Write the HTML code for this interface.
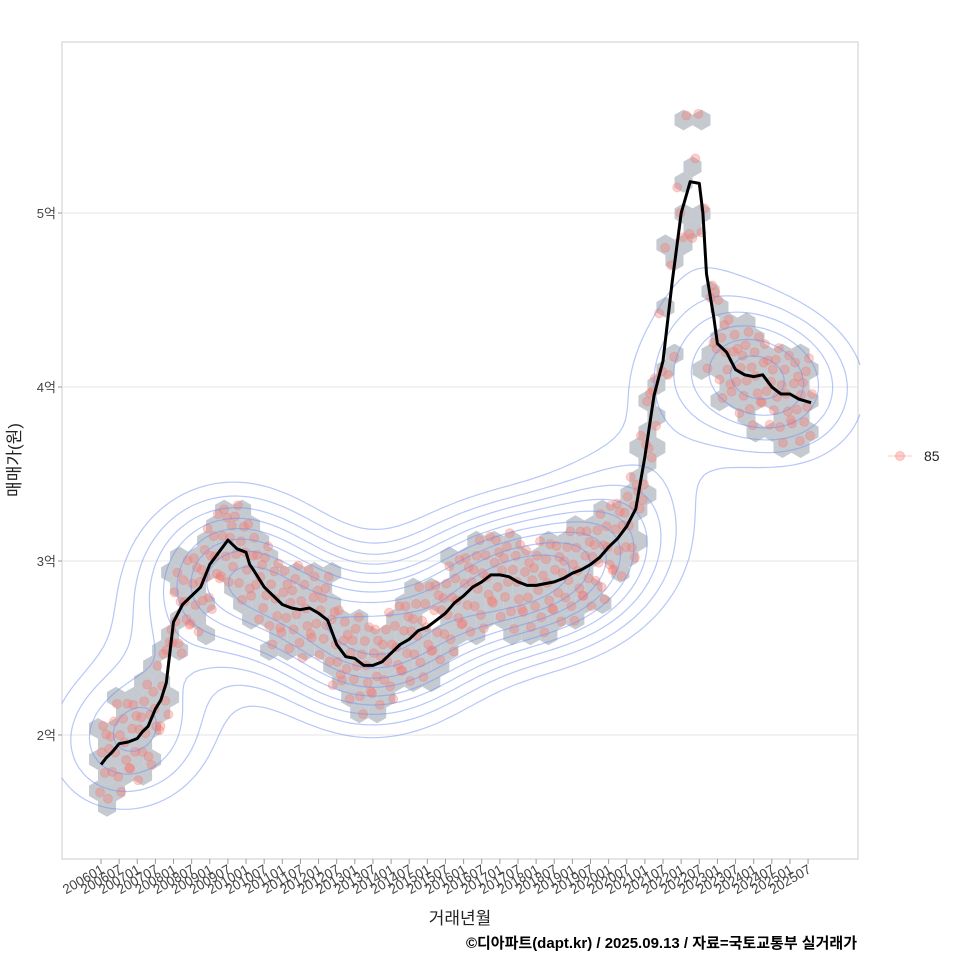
<!DOCTYPE html>
<html><head><meta charset="utf-8">
<style>
body{margin:0;background:#fff;}
svg{display:block;font-family:"Liberation Sans","Noto Sans CJK KR",sans-serif;}
</style></head>
<body>
<svg id="chart" width="960" height="960" viewBox="0 0 960 960">
<rect x="0" y="0" width="960" height="960" fill="#fff"/>
<rect x="62" y="42" width="796" height="817" fill="#fff" stroke="#cccccc" stroke-width="1"/>
<g id="grid"></g>
<g id="hex"></g>
<g id="pts"></g>
<g id="contours"></g>
<g id="line"></g>
<g id="axes"></g>
<text x="10" y="450" transform="rotate(-90 20 450)" font-size="17" fill="#222" text-anchor="middle">매매가(원)</text>
<text x="460" y="924" font-size="17" fill="#222" text-anchor="middle">거래년월</text>
<text x="857" y="948" font-size="15" font-weight="bold" fill="#000" text-anchor="end">©디아파트(dapt.kr) / 2025.09.13 / 자료=국토교통부 실거래가</text>
<g>
<line x1="888" y1="456" x2="912" y2="456" stroke="#f8766d" stroke-opacity="0.4" stroke-width="1"/>
<circle cx="900" cy="456" r="4.5" fill="#f8766d" fill-opacity="0.35" stroke="#f8766d" stroke-opacity="0.4"/>
<text x="924" y="461" font-size="14" fill="#222">85</text>
</g>
</svg>
<script>
// ---- data ----
const lineT = [2006.0,2006.15,2006.3,2006.5,2006.75,2007.0,2007.15,2007.3,2007.5,2007.65,2007.8,2008.0,2008.25,2008.5,2008.75,2009.0,2009.25,2009.5,2009.75,2010.0,2010.1,2010.2,2010.5,2010.75,2011.0,2011.25,2011.5,2011.75,2012.0,2012.25,2012.5,2012.75,2013.0,2013.25,2013.5,2013.75,2014.0,2014.25,2014.5,2014.75,2015.0,2015.25,2015.5,2015.75,2016.0,2016.25,2016.5,2016.75,2017.0,2017.25,2017.5,2017.75,2018.0,2018.25,2018.5,2018.75,2019.0,2019.25,2019.5,2019.75,2020.0,2020.25,2020.5,2020.75,2021.0,2021.25,2021.5,2021.75,2022.0,2022.25,2022.5,2022.6,2022.7,2022.9,2023.0,2023.25,2023.5,2023.75,2024.0,2024.25,2024.5,2024.75,2025.0,2025.25,2025.58];
const lineV = [1.83,1.87,1.9,1.95,1.96,1.98,2.02,2.05,2.15,2.2,2.3,2.65,2.75,2.8,2.85,2.98,3.05,3.12,3.07,3.05,2.98,2.95,2.85,2.8,2.75,2.73,2.72,2.73,2.7,2.66,2.52,2.45,2.44,2.4,2.4,2.42,2.47,2.52,2.55,2.6,2.62,2.66,2.7,2.76,2.8,2.85,2.88,2.92,2.92,2.91,2.88,2.86,2.86,2.87,2.88,2.9,2.93,2.95,2.98,3.02,3.08,3.13,3.2,3.3,3.6,3.95,4.15,4.6,5.0,5.18,5.17,5.0,4.65,4.4,4.25,4.2,4.1,4.07,4.06,4.07,4.0,3.96,3.96,3.93,3.91];
const residuals = [-0.16,0.07,0.2,-0.07,0.13,-0.24,0.03,0.1,-0.12,0.17,-0.03,0.25,-0.19,0.05,-0.28,0.14,0.0,-0.1,0.22,-0.15];
const yTicks = [2,3,4,5];
const yTickLabels = ['2억','3억','4억','5억'];

// ---- scales ----
const X = t => 101 + (t-2006)*36.26;
const Y = v => 735 - (v-2)*174;
const NS = 'http://www.w3.org/2000/svg';
function mk(tag, attrs, parent){const e=document.createElementNS(NS,tag);for(const k in attrs)e.setAttribute(k,attrs[k]);parent.appendChild(e);return e;}
function interp(t){for(let i=0;i<lineT.length-1;i++){if(t<=lineT[i+1]){const f=(t-lineT[i])/(lineT[i+1]-lineT[i]);return lineV[i]+f*(lineV[i+1]-lineV[i]);}}return lineV[lineV.length-1];}

const grid=document.getElementById('grid'), axes=document.getElementById('axes');
yTicks.forEach((v,i)=>{
  const g=mk('line',{x1:62,x2:858,y1:Y(v),y2:Y(v),stroke:'#e6e6e6','stroke-width':1},grid);
  
  
  mk('line',{x1:58,x2:62,y1:Y(v),y2:Y(v),stroke:'#999'},axes);
  const t=mk('text',{x:56,y:Y(v)+5,'font-size':13,fill:'#444','text-anchor':'end'},axes);
  t.textContent=yTickLabels[i];
  
  
});
for(let k=0;k<40;k++){
  const t=2006+k*0.5, x=X(t);
  const yr=Math.floor(t), mo=(k%2===0)?'01':'07';
  mk('line',{x1:x,x2:x,y1:859,y2:864,stroke:'#999'},axes);
  const lb=mk('text',{x:x+4,y:872,'font-size':13.5,fill:'#444','text-anchor':'end',transform:`rotate(-30 ${x+4} 872)`},axes);
  lb.textContent=yr+mo;
  
  
}

// scatter points
const pts=[];
let ri=0;
for(let t=2006.0;t<=2025.6;t+=1/12){
  const spike=(t>2021.3&&t<2022.8);
  const n = spike?1:2;
  for(let j=0;j<n;j++){
    let r=residuals[ri%residuals.length]; ri++;
    if(spike) r*=2.0;
    pts.push([t+(j-0.5)*0.05, interp(t)+r]);
  }
}
const ptsG=document.getElementById('pts');
const hr=10.4, hw=Math.sqrt(3)*hr, hv=1.5*hr;
const bins={};
pts.forEach(p=>{
  const px=X(p[0]), py=Y(p[1]);
  let best=null,bd=1e9;
  const row0=Math.round((py-42)/hv);
  for(let r=row0-1;r<=row0+1;r++){
    const off=(r%2)?hw/2:0;
    const c0=Math.round((px-62-off)/hw);
    for(let c=c0-1;c<=c0+1;c++){
      const cx=62+off+c*hw, cy=42+r*hv, d=(cx-px)**2+(cy-py)**2;
      if(d<bd){bd=d;best=[cx,cy];}
    }
  }
  bins[best[0].toFixed(1)+','+best[1].toFixed(1)]=best;
});
const hexG=document.getElementById('hex');
Object.values(bins).forEach(([cx,cy])=>{
  let d='';
  for(let i=0;i<6;i++){const a=Math.PI/180*(60*i-90);d+=(i?'L':'M')+(cx+hr*Math.cos(a)).toFixed(1)+' '+(cy+hr*Math.sin(a)).toFixed(1);}
  const h=mk('path',{d:d+'Z',fill:'#c4cad0'},hexG);
  
  
});
pts.forEach(p=>{
  const c=mk('circle',{cx:X(p[0]),cy:Y(p[1]),r:4.5,fill:'#f8766d','fill-opacity':0.35,stroke:'#f8766d','stroke-opacity':0.3},ptsG);
  
  
});

// KDE contours
const gx0=62,gy0=42,step=6,nx=Math.ceil(796/step)+1,ny=Math.ceil(817/step)+1;
const bwx=55,bwy=42;
const dens=[];let maxd=0;
const ppx=pts.map(p=>[X(p[0]),Y(p[1])]);
for(let j=0;j<ny;j++){dens[j]=[];for(let i=0;i<nx;i++){
  const x=gx0+i*step,y=gy0+j*step;let s=0;
  for(const p of ppx){const dx=(x-p[0])/bwx,dy=(y-p[1])/bwy;const q=dx*dx+dy*dy;if(q<12)s+=Math.exp(-0.5*q);}
  dens[j][i]=s;if(s>maxd)maxd=s;}}
const cG=document.getElementById('contours');
for(let L=2;L<=10;L++){
  const lev=maxd*L/11;let d='';
  for(let j=0;j<ny-1;j++)for(let i=0;i<nx-1;i++){
    const v=[dens[j][i],dens[j][i+1],dens[j+1][i+1],dens[j+1][i]];
    const x=gx0+i*step,y=gy0+j*step;
    const c=[[x,y],[x+step,y],[x+step,y+step],[x,y+step]];
    const e=[];
    for(let k=0;k<4;k++){const a=v[k],b=v[(k+1)%4];if((a>=lev)!==(b>=lev)){const f=(lev-a)/(b-a);const p=c[k],q=c[(k+1)%4];e.push([p[0]+f*(q[0]-p[0]),p[1]+f*(q[1]-p[1])]);}}
    for(let k=0;k+1<e.length;k+=2)d+=`M${e[k][0].toFixed(1)} ${e[k][1].toFixed(1)}L${e[k+1][0].toFixed(1)} ${e[k+1][1].toFixed(1)}`;
  }
  const cp=mk('path',{d:d,fill:'none',stroke:'#6f8ff0','stroke-opacity':0.5,'stroke-width':1.2},cG);
  
  
}

let ld='';lineT.forEach((t,i)=>{ld+=(i?'L':'M')+X(t).toFixed(1)+' '+Y(lineV[i]).toFixed(1);});
const lp=mk('path',{d:ld,fill:'none',stroke:'#000','stroke-width':3,'stroke-linejoin':'round'},document.getElementById('line'));


</script>
</body></html>
